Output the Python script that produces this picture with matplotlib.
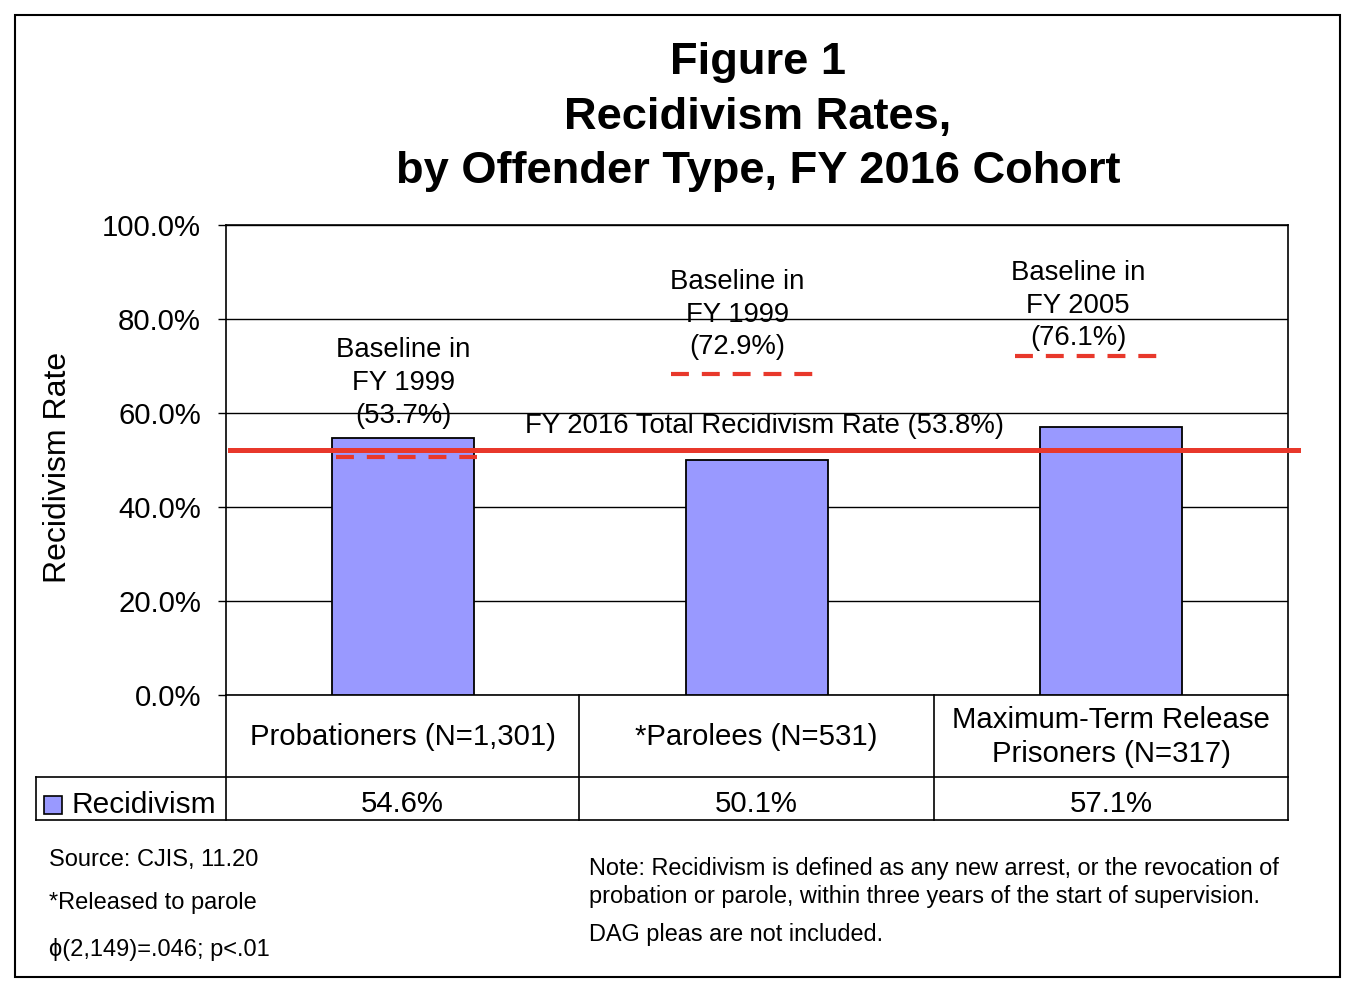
import matplotlib
matplotlib.use("Agg")
import matplotlib.pyplot as plt
from matplotlib.lines import Line2D
from matplotlib.patches import Rectangle

plt.rcParams['font.family'] = ['Liberation Sans', 'DejaVu Sans']

# data
categories = ["Probationers (N=1,301)", "*Parolees (N=531)", "Maximum-Term Release\nPrisoners (N=317)"]
rates = [54.6, 50.1, 57.1]
baseline_text = ["Baseline in\nFY 1999\n(53.7%)", "Baseline in\nFY 1999\n(72.9%)", "Baseline in\nFY 2005\n(76.1%)"]
baseline_level = [50.6, 68.3, 72.1]          # where the dashed lines are drawn
baseline_span = [(-0.19, 0.21), (-0.243, 0.158), (-0.271, 0.13)]   # relative to bar centre
baseline_text_pos = [(0.0, 66.4), (0.944, 80.9), (1.907, 82.8)]
total_level = 52.2
total_text = "FY 2016 Total Recidivism Rate (53.8%)"
yticks = [0, 20, 40, 60, 80, 100]

W, H = 1358, 988
bar_color = '#9999ff'
red = '#e8382b'


def fx(px):
    return px / W


def fy(py):
    return 1 - py / H


fig = plt.figure(figsize=(W / 100, H / 100), dpi=100)
ax = fig.add_axes([fx(226), fy(695), (1288 - 226) / W, (695 - 225) / H])

x = list(range(len(categories)))
ax.bar(x, rates, width=0.4, color=bar_color, edgecolor='black', linewidth=1.3, zorder=3)
ax.set_xlim(-0.5, 2.5)
ax.set_ylim(0, 100)
ax.set_yticks(yticks)
ax.set_yticklabels(["%.1f%%" % v for v in yticks], fontsize=21.2)
ax.tick_params(axis='y', direction='out', length=6, width=1, pad=12)
ax.set_xticks([])
ax.grid(axis='y', color='black', linewidth=1, zorder=0)
for s in ax.spines.values():
    s.set_linewidth(1.2)

# total recidivism line
ax.plot([-0.489, 2.528], [total_level, total_level], color=red, lw=3.6, zorder=5, clip_on=False)
ax.text(1.02, 57.2, total_text, ha='center', va='center', fontsize=19.8, zorder=6)

# baselines
for i, ((x0, x1), lvl, txt, (tx, ty)) in enumerate(zip(baseline_span, baseline_level, baseline_text,
                                                         baseline_text_pos)):
    ax.plot([i + x0, i + x1], [lvl, lvl], color=red, lw=3, dashes=(4.3, 3.1), zorder=6, clip_on=False)
    ax.text(tx, ty, txt, ha='center', va='center', fontsize=19.8, linespacing=1.33, zorder=6)

# data table under the axes
col_edges = [226, 579, 934, 1288]
tr = fig.transFigure
lines = [
    ((226, 226), (695, 820)),
    ((579, 579), (695, 820)),
    ((934, 934), (695, 820)),
    ((1288, 1288), (695, 820)),
    ((36, 1288), (777, 777)),
    ((36, 1288), (820, 820)),
    ((36, 36), (777, 820)),
]
for (xa, xb), (ya, yb) in lines:
    fig.add_artist(Line2D([fx(xa), fx(xb)], [fy(ya), fy(yb)], color='black', lw=1.2, transform=tr))

for i, (cat, r) in enumerate(zip(categories, rates)):
    cx = (col_edges[i] + col_edges[i + 1]) / 2
    fig.text(fx(cx), fy(737), cat, ha='center', va='center', fontsize=21.2, linespacing=1.3)
    fig.text(fx(cx), fy(804), "%.1f%%" % r, ha='center', va='center', fontsize=21.2)

fig.add_artist(Rectangle((fx(44), fy(814)), (62 - 44) / W, (814 - 796) / H, facecolor=bar_color,
                         edgecolor='black', lw=1.2, transform=tr))
fig.text(fx(71), fy(805), "Recidivism", ha='left', va='center', fontsize=21.5)

# titles and labels
fig.text(fx(758), fy(117), "Figure 1\nRecidivism Rates,\nby Offender Type, FY 2016 Cohort",
         ha='center', va='center', fontsize=32.6, fontweight='bold', linespacing=1.42)
fig.text(fx(58), fy(467), "Recidivism Rate", rotation=90, ha='center', va='center', fontsize=23)

fig.text(fx(49), fy(860), "Source: CJIS, 11.20", ha='left', va='center', fontsize=17)
fig.text(fx(49), fy(903), "*Released to parole", ha='left', va='center', fontsize=17)
fig.text(fx(49), fy(949), "\u03d5(2,149)=.046; p<.01", ha='left', va='center', fontsize=17)
fig.text(fx(589), fy(868), "Note: Recidivism is defined as any new arrest, or the revocation of",
         ha='left', va='center', fontsize=16.9)
fig.text(fx(589), fy(896), "probation or parole, within three years of the start of supervision.",
         ha='left', va='center', fontsize=16.9)
fig.text(fx(589), fy(934), "DAG pleas are not included.", ha='left', va='center', fontsize=16.9)

# outer border
fig.add_artist(Rectangle((fx(15), fy(977)), (1340 - 15) / W, (977 - 15) / H, fill=False,
                         edgecolor='black', lw=1.5, transform=tr))

fig.savefig("out.png", dpi=100)
